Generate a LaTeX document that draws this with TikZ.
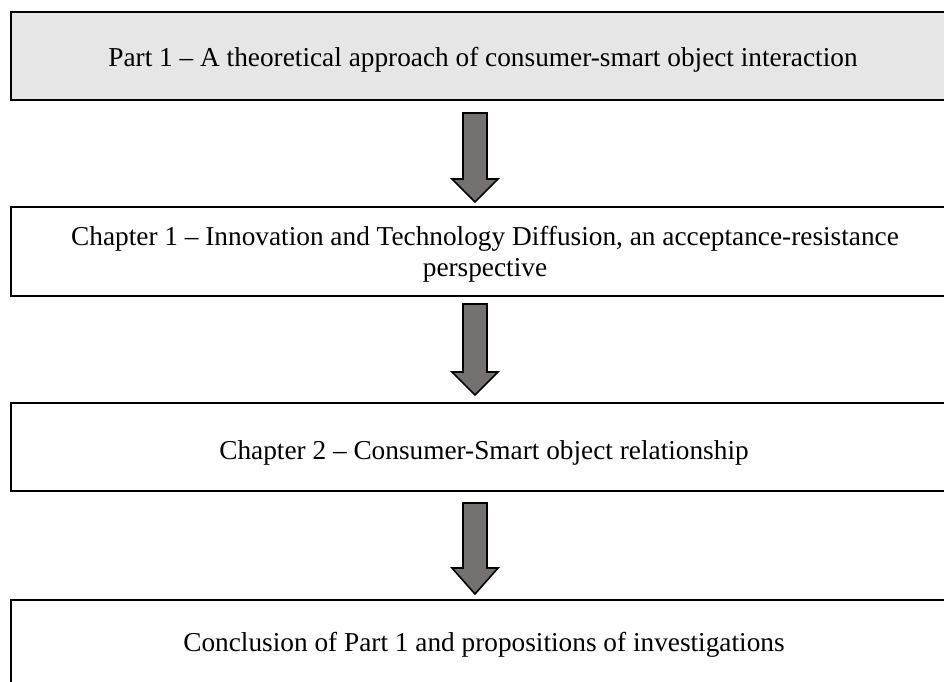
\documentclass[tikz,border=0pt]{standalone}
\usepackage{fontspec}
\setmainfont{Liberation Serif}
\definecolor{boxgray}{HTML}{E7E6E6}
\definecolor{arrgray}{HTML}{767171}
\begin{document}
\begin{tikzpicture}[x=1pt,y=-1pt,
  framebox/.style={draw=black,line width=2.6pt},
  label/.style={font=\fontsize{27.3}{31}\selectfont,align=center,inner sep=0pt},
  bigarrow/.style={draw=black,fill=arrgray,line width=1.6pt,line join=miter}]
\useasboundingbox (0,0) rectangle (944,681);
\begin{scope}
\clip (0,0) rectangle (944,681);
\draw[framebox,fill=boxgray] (11,12) rectangle (960,100);
\draw[framebox] (11,207) rectangle (960,296);
\draw[framebox] (11,403) rectangle (960,491);
\draw[framebox] (11,600) rectangle (960,700);
\end{scope}
\node[label] (p1) at (483,60) {Part 1 -- A theoretical approach of consumer-smart object interaction};
\node[label] (c1) at (485,254) {Chapter 1 -- Innovation and Technology Diffusion, an acceptance-resistance\\perspective};
\node[label] (c2) at (484,453) {Chapter 2 -- Consumer-Smart object relationship};
\node[label] (cc) at (484,645) {Conclusion of Part 1 and propositions of investigations};
\foreach \top/\hs/\tip/\n in {113/179/202/a1,304/372/395/a2,503/568/594/a3}{
  \draw[bigarrow] (463,\top) -- (487,\top) -- (487,\hs) -- (498,\hs) -- (475,\tip) coordinate (\n) -- (452,\hs) -- (463,\hs) -- cycle;
}
\end{tikzpicture}
\end{document}
